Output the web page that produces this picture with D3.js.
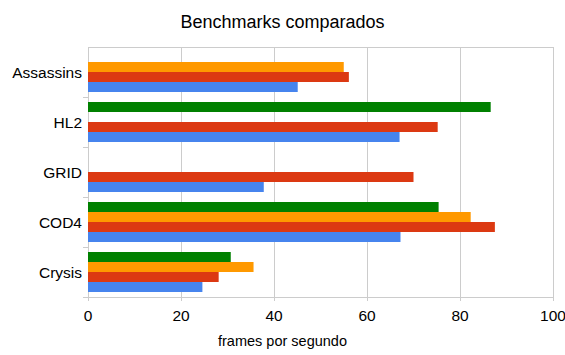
<!DOCTYPE html>
<html><head><meta charset="utf-8">
<script src="https://cdn.jsdelivr.net/npm/d3@7"></script>
<style>body{margin:0;background:#fff;overflow:hidden}svg{display:block}text{font-family:"Liberation Sans",Arial,sans-serif;fill:#000}</style>
</head><body>
<script>
const categories = ["Assassins","HL2","GRID","COD4","Crysis"];
const seriesColors = ["#4684ee","#dc3912","#ff9900","#008000"];
// values per series, in category order (null = missing)
const blueVals   = [45.1, 67.0, 37.8, 67.2, 24.6];
const redVals    = [56.1, 75.2, 70.0, 87.5, 28.1];
const orangeVals = [55.0, null, null, 82.3, 35.6];
const greenVals  = [null, 86.6, null, 75.4, 30.7];
const xTicks = [0,20,40,60,80,100];
const titleText = "Benchmarks comparados";
const xTitle = "frames por segundo";

const W=565,H=355;
const m={l:88,r:12,t:47,b:58};
const svg=d3.select("body").append("svg").attr("width",W).attr("height",H);
const x=d3.scaleLinear().domain([0,100]).range([m.l,W-m.r]);
const y=d3.scaleBand().domain(categories).range([m.t,H-m.b]);
const inner=d3.scaleBand().domain([3,2,1,0]).range([0,y.bandwidth()]).paddingOuter(0.5).paddingInner(0);
const allVals=[blueVals,redVals,orangeVals,greenVals];

// gridlines
svg.append("g").selectAll("line").data(xTicks).join("line")
 .attr("x1",d=>Math.round(x(d))+0.5).attr("x2",d=>Math.round(x(d))+0.5)
 .attr("y1",m.t).attr("y2",H-m.b+4).attr("stroke","#cccccc");
// top border
svg.append("line").attr("x1",m.l).attr("x2",Math.round(x(100))+0.5).attr("y1",m.t+0.5).attr("y2",m.t+0.5).attr("stroke","#cccccc");
// bottom axis
svg.append("line").attr("x1",m.l-5).attr("x2",Math.round(x(100))+1).attr("y1",H-m.b+0.5).attr("y2",H-m.b+0.5).attr("stroke","#cccccc");
// category ticks
const bounds=categories.map(c=>y(c)).concat([H-m.b]).slice(1);
svg.append("g").selectAll("line").data(bounds).join("line")
 .attr("x1",m.l-5).attr("x2",m.l).attr("y1",d=>Math.round(d)+0.5).attr("y2",d=>Math.round(d)+0.5).attr("stroke","#cccccc");

// bars
allVals.forEach((vals,si)=>{
  svg.append("g").selectAll("rect").data(categories.map((c,i)=>({c,v:vals[i]})).filter(d=>d.v!=null)).join("rect")
   .attr("x",x(0)).attr("y",d=>y(d.c)+inner(si))
   .attr("width",d=>x(d.v)-x(0)).attr("height",inner.bandwidth())
   .attr("fill",seriesColors[si]);
});

// category labels
svg.append("g").selectAll("text").data(categories).join("text")
 .attr("x",m.l-6).attr("y",d=>y(d)+y.bandwidth()/2+6).attr("text-anchor","end")
 .attr("font-size","15.5px").text(d=>d);
// x tick labels
svg.append("g").selectAll("text").data(xTicks).join("text")
 .attr("x",d=>x(d)).attr("y",321).attr("text-anchor","middle").attr("font-size","15.5px").text(d=>d);
// titles
svg.append("text").attr("x",W/2).attr("y",28).attr("text-anchor","middle").attr("font-size","18px").text(titleText);
svg.append("text").attr("x",W/2).attr("y",346).attr("text-anchor","middle").attr("font-size","14.5px").text(xTitle);
</script>
</body></html>
